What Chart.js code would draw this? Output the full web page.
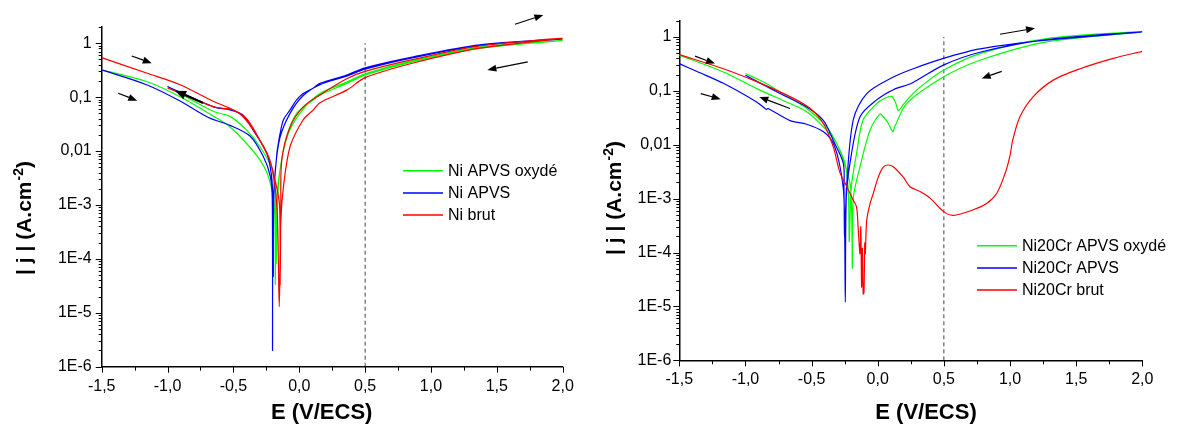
<!DOCTYPE html>
<html><head><meta charset="utf-8">
<script src="https://cdn.jsdelivr.net/npm/chart.js@4.4.1/dist/chart.umd.min.js"></script>
<style>
html,body{margin:0;padding:0;background:#fff;width:1185px;height:424px;overflow:hidden}
canvas{position:absolute;top:0}
#c1{left:0}
#c2{left:590px}
</style></head><body>
<canvas id="c1" width="590" height="424" style="width:590px;height:424px"></canvas>
<canvas id="c2" width="595" height="424" style="width:595px;height:424px"></canvas>
<script>
// ---------- axes / text ----------
const xTickValues = [-1.5, -1.0, -0.5, 0, 0.5, 1.0, 1.5, 2.0];
const xTickLabels = ['-1,5', '-1,0', '-0,5', '0,0', '0,5', '1,0', '1,5', '2,0'];
const yTickValues = [1e-6, 1e-5, 1e-4, 1e-3, 0.01, 0.1, 1];
const yTickLabels = ['1E-6', '1E-5', '1E-4', '1E-3', '0,01', '0,1', '1'];
const xTitle = 'E (V/ECS)';
const yTitleMain = '| j | (A.cm';
const yTitleSup = '-2';
const yTitleEnd = ')';
const refPotential = [0.5, 0.5];
const refCurrent = [1e-6, 1];
const leftLabels = ['Ni APVS oxydé', 'Ni APVS', 'Ni brut'];
const rightLabels = ['Ni20Cr APVS oxydé', 'Ni20Cr APVS', 'Ni20Cr brut'];

// ---------- left panel: Ni (forward -1.5 -> 2.0, then reverse 2.0 -> -1.0) ----------
const niBrutE = [-1.5,-1.16,-0.905,-0.65,-0.526,-0.4,-0.3,-0.22,-0.184,-0.165,-0.152,-0.14,-0.12,-0.07,0.03,0.107,0.157,0.36,0.5,0.866,1.37,2.0,
  1.37,0.866,0.5,0.36,0.157,0.03,-0.07,-0.133,-0.14,-0.145,-0.15,-0.184,-0.233,-0.33,-0.43,-0.5,-0.58,-0.65,-0.78,-1.0];
const niBrutJ = [0.54,0.28,0.17,0.083,0.062,0.040,0.016,0.0063,0.0022,5.0e-4,1.3e-5,5.0e-4,0.0022,0.012,0.038,0.058,0.079,0.135,0.23,0.43,0.81,1.23,
  0.89,0.50,0.30,0.22,0.11,0.066,0.028,0.0068,1.0e-3,3.2e-5,1.0e-3,0.0029,0.0079,0.021,0.044,0.058,0.062,0.066,0.089,0.148];

const niApvsE = [-1.5,-1.16,-0.905,-0.69,-0.526,-0.374,-0.273,-0.22,-0.205,-0.203,-0.198,-0.17,-0.159,-0.146,-0.12,-0.07,-0.02,0.03,0.107,0.157,0.36,0.5,0.866,1.37,2.0,
  1.37,0.866,0.5,0.36,0.157,0.03,-0.07,-0.146,-0.18,-0.195,-0.197,-0.2,-0.21,-0.247,-0.35,-0.43,-0.526,-0.65,-1.0];
const niApvsJ = [0.32,0.17,0.085,0.042,0.030,0.019,0.0079,0.0034,0.0013,2.0e-6,1.0e-3,0.0091,0.0138,0.021,0.038,0.058,0.089,0.117,0.148,0.18,0.257,0.35,0.56,0.93,1.19,
  0.91,0.54,0.33,0.245,0.17,0.107,0.05,0.018,0.005,1.0e-3,4.7e-5,1.0e-3,0.0034,0.0091,0.0245,0.047,0.058,0.066,0.158];

const niOxE = [-1.5,-1.16,-0.905,-0.65,-0.526,-0.4,-0.298,-0.235,-0.19,-0.182,-0.175,-0.146,-0.095,-0.02,0.107,0.157,0.36,0.5,0.866,1.37,2.0,
  1.37,0.866,0.5,0.36,0.157,0.03,-0.07,-0.13,-0.16,-0.175,-0.18,-0.205,-0.298,-0.4,-0.526,-0.65,-1.0];
const niOxJ = [0.32,0.195,0.102,0.044,0.028,0.0138,0.0068,0.0034,1.0e-3,3.3e-5,1.0e-3,0.0045,0.0186,0.05,0.089,0.11,0.18,0.257,0.457,0.81,1.12,
  0.85,0.48,0.27,0.19,0.117,0.06,0.025,0.0079,0.002,8.3e-5,1.0e-3,0.0045,0.012,0.0245,0.044,0.054,0.158];

// ---------- right panel: Ni20Cr ----------
const crBrutE = [-1.5,-1.167,-0.915,-0.663,-0.51,-0.41,-0.336,-0.285,-0.235,-0.185,-0.16,-0.147,-0.134,-0.128,-0.122,-0.116,-0.11,-0.104,-0.098,-0.094,-0.083,-0.058,-0.033,0.004,0.04,0.075,0.118,0.193,0.244,0.32,0.4,0.496,0.571,0.722,0.823,0.9,0.962,1.0,1.02,1.075,1.176,1.327,1.53,1.78,2.0];
const crBrutJ = [0.47,0.257,0.148,0.078,0.047,0.0245,0.0091,0.003,0.0017,9.3e-4,7.0e-4,2.6e-4,9.5e-5,3.0e-4,2.3e-5,1.2e-4,1.7e-5,1.8e-5,1.5e-4,9.5e-5,4.0e-4,8.1e-4,1.26e-3,2.5e-3,3.8e-3,4.2e-3,3.9e-3,2.5e-3,1.66e-3,1.35e-3,1.0e-3,5.8e-4,4.9e-4,6.2e-4,8.1e-4,1.26e-3,2.9e-3,6.3e-3,0.012,0.033,0.078,0.158,0.257,0.40,0.54];

const crApvsE = [-1.5,-1.37,-1.167,-0.915,-0.84,-0.83,-0.663,-0.537,-0.41,-0.336,-0.285,-0.255,-0.245,-0.238,-0.21,-0.134,-0.008,0.118,0.26,0.496,0.773,1.277,2.0,
  1.277,0.773,0.496,0.269,0.118,-0.083,-0.185,-0.235,-0.25,-0.255,-0.26,-0.336,-0.41,-0.537,-0.739,-1.0];
const crApvsJ = [0.32,0.23,0.138,0.062,0.045,0.047,0.028,0.024,0.0174,0.0105,0.0039,1.0e-3,1.2e-5,1.0e-3,0.0045,0.033,0.068,0.105,0.14,0.30,0.52,0.89,1.24,
  0.87,0.60,0.40,0.257,0.18,0.089,0.029,0.0017,1.95e-4,1.5e-3,0.0045,0.012,0.028,0.05,0.089,0.195];

const crOxE = [-1.5,-1.167,-0.915,-0.663,-0.537,-0.41,-0.31,-0.26,-0.205,-0.192,-0.185,-0.134,-0.058,0.017,0.042,0.08,0.113,0.13,0.219,0.496,0.773,1.277,2.0,
  1.277,0.773,0.496,0.32,0.244,0.19,0.155,0.135,0.105,0.05,-0.008,-0.11,-0.16,-0.2,-0.215,-0.222,-0.247,-0.31,-0.386,-0.537,-0.739,-0.85,-1.0];
const crOxJ = [0.46,0.224,0.11,0.058,0.041,0.0214,0.0105,0.0051,0.0016,5.1e-5,1.0e-3,0.0039,0.0186,0.037,0.033,0.025,0.0174,0.022,0.058,0.18,0.37,0.81,1.24,
  0.93,0.49,0.24,0.117,0.078,0.054,0.043,0.06,0.079,0.072,0.058,0.029,0.0069,0.0016,1.6e-4,1.3e-3,0.0045,0.0105,0.0214,0.047,0.095,0.14,0.21];

// ---------- direction arrows (E start, j start, E end, j end, width) ----------
const arrowsLeft = [[-1.272,0.58,-1.12,0.426,1.2],[-1.374,0.118,-1.23,0.086,1.2],[-0.731,0.078,-0.943,0.132,2.2],[1.638,2.25,1.853,3.35,1.2],[1.735,0.45,1.428,0.32,1.2]];
const arrowsRight = [[-1.381,0.44,-1.23,0.32,1.2],[-1.338,0.089,-1.187,0.070,1.2],[-0.663,0.047,-0.895,0.077,1.2],[0.924,1.12,1.189,1.45,1.2],[0.937,0.23,0.786,0.17,1.2]];

const GREEN = '#00ff00', BLUE = '#0000ff', RED = '#ff0000';
const FONT = '"Liberation Sans", Arial, sans-serif';

function pts(E, J) { return E.map((e, i) => ({x: e, y: J[i]})); }

function drawArrow(ctx, x1, y1, x2, y2, lw) {
  const a = Math.atan2(y2 - y1, x2 - x1);
  const hl = lw > 1.5 ? 11 : 9, hw = lw > 1.5 ? 4.5 : 3.5;
  const bx = x2 - hl * Math.cos(a), by = y2 - hl * Math.sin(a);
  ctx.lineWidth = lw;
  ctx.beginPath(); ctx.moveTo(x1, y1); ctx.lineTo(bx, by); ctx.stroke();
  ctx.beginPath();
  ctx.moveTo(x2, y2);
  ctx.lineTo(bx + hw * Math.sin(a), by - hw * Math.cos(a));
  ctx.lineTo(bx - hw * Math.sin(a), by + hw * Math.cos(a));
  ctx.closePath(); ctx.fill();
}

const decor = {
  id: 'decor',
  afterDraw(chart, args, o) {
    const ctx = chart.ctx, xs = chart.scales.x, ys = chart.scales.y, ca = chart.chartArea;
    ctx.save();
    ctx.strokeStyle = '#000'; ctx.fillStyle = '#000'; ctx.lineWidth = 1;
    for (let e = -6; e <= 0; e++) {
      for (let m = 1; m <= 9; m++) {
        const v = m * Math.pow(10, e);
        if (v > 2.0001) break;
        const py = Math.round(ys.getPixelForValue(v)) + 0.5;
        const len = m === 1 ? 6 : 3;
        ctx.beginPath(); ctx.moveTo(ca.left - len, py); ctx.lineTo(ca.left, py); ctx.stroke();
      }
    }
    for (let k = 0; k <= 14; k++) {
      const v = -1.5 + k * 0.25;
      const px = Math.round(xs.getPixelForValue(v)) + 0.5;
      const len = k % 2 === 0 ? 6 : 4;
      ctx.beginPath(); ctx.moveTo(px, ca.bottom); ctx.lineTo(px, ca.bottom + len); ctx.stroke();
    }
    ctx.font = 'bold 22px ' + FONT;
    ctx.textAlign = 'center'; ctx.textBaseline = 'alphabetic';
    ctx.fillText(xTitle, o.xTitleX, o.xTitleY);
    const fMain = 'bold 21px ' + FONT, fSup = 'bold 14px ' + FONT;
    ctx.font = fMain; const w1 = ctx.measureText(yTitleMain).width; const w3 = ctx.measureText(yTitleEnd).width;
    ctx.font = fSup; const w2 = ctx.measureText(yTitleSup).width;
    const total = w1 + w2 + w3;
    ctx.translate(o.yTitleX, o.yTitleCY + total / 2);
    ctx.rotate(-Math.PI / 2);
    ctx.textAlign = 'left';
    ctx.font = fMain; ctx.fillText(yTitleMain, 0, 0);
    ctx.font = fSup; ctx.fillText(yTitleSup, w1 + 1, -8);
    ctx.font = fMain; ctx.fillText(yTitleEnd, w1 + w2 + 1, 0);
    ctx.setTransform(1, 0, 0, 1, 0, 0);
    ctx.font = '16px ' + FONT; ctx.textBaseline = 'middle'; ctx.textAlign = 'left';
    const cols = [GREEN, BLUE, RED];
    o.legend.forEach((lab, i) => {
      const y = o.legY[i];
      ctx.strokeStyle = cols[i]; ctx.lineWidth = 1.5;
      ctx.beginPath(); ctx.moveTo(o.legX, y); ctx.lineTo(o.legX + 40, y); ctx.stroke();
      ctx.fillStyle = '#000';
      ctx.fillText(lab, o.legX + 45, y + 1);
    });
    ctx.strokeStyle = '#000'; ctx.fillStyle = '#000';
    o.arrows.forEach(a => {
      drawArrow(ctx, xs.getPixelForValue(a[0]), ys.getPixelForValue(a[1]), xs.getPixelForValue(a[2]), ys.getPixelForValue(a[3]), a[4]);
    });
    ctx.restore();
  }
};

function makeChart(id, series, geo) {
  const datasets = [
    {data: pts(refPotential, refCurrent), borderColor: '#444', borderDash: [4, 3], borderWidth: 1, order: 4, tension: 0}
  ];
  series.forEach(s => datasets.push({data: pts(s.E, s.J), borderColor: s.color, borderWidth: 1.2, order: s.order, tension: 0.3}));
  datasets.forEach(d => { d.showLine = true; d.pointRadius = 0; d.pointHoverRadius = 0; d.fill = false; });
  return new Chart(document.getElementById(id), {
    type: 'scatter',
    data: {datasets},
    options: {
      responsive: false, animation: false, devicePixelRatio: 1,
      layout: {padding: {left: 0, top: geo.top, right: geo.right, bottom: 0}},
      plugins: {legend: {display: false}, tooltip: {enabled: false}, decor: geo.decor},
      scales: {
        x: {
          type: 'linear', min: -1.5, max: 2.0,
          afterBuildTicks: s => { s.ticks = xTickValues.map(v => ({value: v})); },
          afterFit: s => { s.height = geo.xh; },
          ticks: {padding: 10, color: '#000', font: {size: 16, family: FONT},
            callback: v => { const i = xTickValues.findIndex(t => Math.abs(t - v) < 1e-9); return i >= 0 ? xTickLabels[i] : ''; },
            maxRotation: 0, autoSkip: false},
          grid: {display: false, drawTicks: false},
          border: {display: true, color: '#000', width: 1.5}
        },
        y: {
          type: 'logarithmic', min: 1e-6, max: 2,
          afterBuildTicks: s => { s.ticks = yTickValues.map(v => ({value: v})); },
          afterFit: s => { s.width = geo.yw; },
          ticks: {padding: geo.ypad, color: '#000', font: {size: 16, family: FONT},
            callback: v => { const i = yTickValues.findIndex(t => Math.abs(Math.log10(t) - Math.log10(v)) < 1e-6); return i >= 0 ? yTickLabels[i] : ''; },
            autoSkip: false},
          grid: {display: false, drawTicks: false},
          border: {display: true, color: '#000', width: 1.5}
        }
      }
    },
    plugins: [decor]
  });
}

makeChart('c1', [
  {E: niBrutE, J: niBrutJ, color: RED, order: 1},
  {E: niApvsE, J: niApvsJ, color: BLUE, order: 2},
  {E: niOxE, J: niOxJ, color: GREEN, order: 3}
], {top: 27, right: 27.3, xh: 57.3, yw: 101.7, ypad: 10,
   decor: {xTitleX: 321.7, xTitleY: 419, yTitleX: 31, yTitleCY: 218.5, legend: leftLabels, legX: 403, legY: [170.7, 193, 215], arrows: arrowsLeft}});

makeChart('c2', [
  {E: crBrutE, J: crBrutJ, color: RED, order: 1},
  {E: crApvsE, J: crApvsJ, color: BLUE, order: 2},
  {E: crOxE, J: crOxJ, color: GREEN, order: 3}
], {top: 20.7, right: 42.7, xh: 63.7, yw: 89.3, ypad: 8,
   decor: {xTitleX: 336, xTitleY: 419, yTitleX: 31, yTitleCY: 198.5, legend: rightLabels, legX: 387, legY: [245.7, 268, 290], arrows: arrowsRight}});
</script></body></html>
